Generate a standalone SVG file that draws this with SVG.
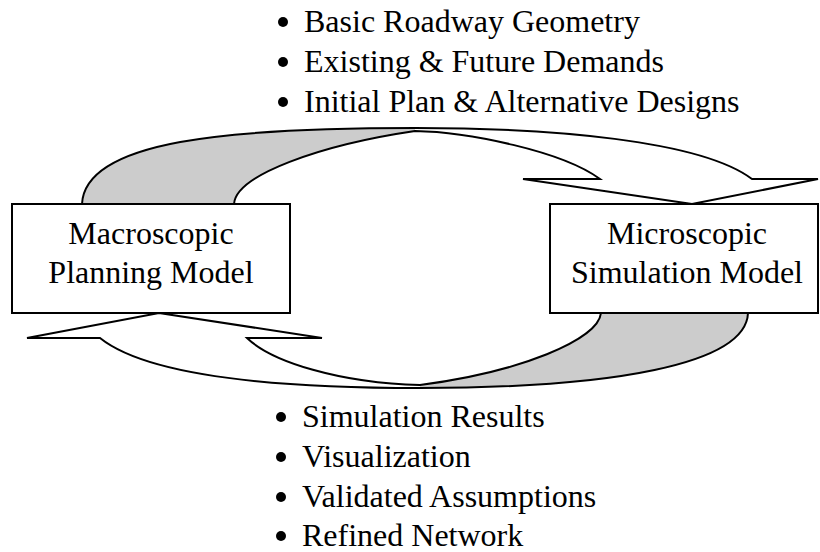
<svg xmlns="http://www.w3.org/2000/svg" width="820" height="552" viewBox="0 0 820 552">
<style>
  .t { font-family: "Liberation Serif", "Times New Roman", serif; font-size: 32px; fill: #000; }
  .box { fill: #fff; stroke: #000; stroke-width: 2; }
  .edge { fill: none; stroke: #000; stroke-width: 2; stroke-linejoin: miter; }
  .back { fill: #cccccc; stroke: none; }
  .dot { fill: #000; }
</style>
<rect width="820" height="552" fill="#fff"/>
<g id="connectors">
  <g id="arrow-top">
    <path class="back" d="M82,204 C85,140 230,128 415,128 L415,131 C320,145 236,175 234,204 Z"/>
    <path class="edge" d="M82,204 C85,140 230,128 415,128 C550,128 700,140 752,179 L818,179 L692,204 L523,179 L600,179 C562,151 468,132 415,131 C320,145 236,175 234,204"/>
  </g>
  <g id="arrow-bottom">
    <path class="back" d="M748,313 C746,365 610,388 420,388 L420,385 C520,372 598,340 601,313 Z"/>
    <path class="edge" d="M748,313 C746,365 610,388 420,388 C290,388 150,378 100,338 L27,338 L159,313 L322,338 L247,338 C272,362 340,383 420,385 C520,372 598,340 601,313"/>
  </g>
</g>
<g id="macroscopic">
  <rect class="box" x="12" y="204" width="278" height="109"/>
  <text class="t" x="151" y="244" text-anchor="middle">Macroscopic</text>
  <text class="t" x="151" y="283" text-anchor="middle">Planning Model</text>
</g>
<g id="microscopic">
  <rect class="box" x="550" y="204" width="268" height="109"/>
  <text class="t" x="687" y="244" text-anchor="middle">Microscopic</text>
  <text class="t" x="687" y="283" text-anchor="middle">Simulation Model</text>
</g>
<g id="inputs">
  <circle class="dot" cx="283" cy="22" r="5"/>
  <text class="t" x="304" y="32">Basic Roadway Geometry</text>
  <circle class="dot" cx="283" cy="62" r="5"/>
  <text class="t" x="304" y="72">Existing &amp; Future Demands</text>
  <circle class="dot" cx="283" cy="102" r="5"/>
  <text class="t" x="304" y="112">Initial Plan &amp; Alternative Designs</text>
</g>
<g id="outputs">
  <circle class="dot" cx="281" cy="417" r="5"/>
  <text class="t" x="302" y="427">Simulation Results</text>
  <circle class="dot" cx="281" cy="457" r="5"/>
  <text class="t" x="302" y="467">Visualization</text>
  <circle class="dot" cx="281" cy="497" r="5"/>
  <text class="t" x="302" y="507">Validated Assumptions</text>
  <circle class="dot" cx="281" cy="536" r="5"/>
  <text class="t" x="302" y="546">Refined Network</text>
</g>
</svg>
